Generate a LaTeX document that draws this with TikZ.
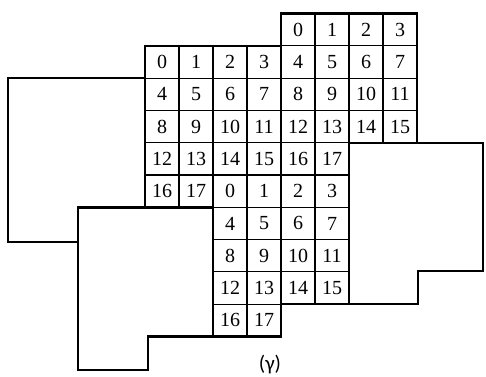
\documentclass[tikz,border=0pt]{standalone}
\usepackage{fontspec}
\newfontfamily\labelfont{Carlito}
\newfontfamily\cellfont{Liberation Serif}
\newcommand\memblock[3]{%
  \foreach \n in {0,...,17}{%
    \pgfmathtruncatemacro\rr{#2+floor(\n/4)}%
    \pgfmathtruncatemacro\cc{#1+mod(\n,4)}%
    \node[cell] (#3\n) at ({145+34*\cc},{13.5+32.3*\rr}) {\n};
  }%
  \draw[outline] ({145+34*#1},{13.5+32.3*#2}) -- ++(136,0) -- ++(0,129.2)
    -- ++(-68,0) -- ++(0,32.3) -- ++(-68,0) -- cycle;
}
\begin{document}
\begin{tikzpicture}[x=1pt,y=-1pt,
  cell/.style={draw,line width=1.1pt,minimum width=34pt,minimum height=32.3pt,
    inner sep=0pt,outer sep=0pt,anchor=north west,font=\cellfont\fontsize{20}{20}\selectfont},
  outline/.style={line width=2.4pt,line join=miter},
  region/.style={line width=2.4pt,line join=miter}]
\useasboundingbox (0,0) rectangle (486,376);
% memory blocks
\memblock{4}{0}{a}
\memblock{0}{1}{b}
\memblock{2}{5}{c}
% empty regions
\draw[region] (8,78.1) -- (145,78.1) -- (145,207.3) -- (78,207.3) -- (78,242) -- (8,242) -- cycle;
\draw[region] (78,207.3) -- (213,207.3) -- (213,336.5) -- (148,336.5) -- (148,370) -- (78,370) -- cycle;
\draw[region] (349,142.7) -- (483,142.7) -- (483,271) -- (418,271) -- (418,304.2) -- (349,304.2) -- cycle;
% caption
\node[font=\labelfont\fontsize{21}{21}\selectfont] (cap) at (270,364) {(γ)};
\end{tikzpicture}
\end{document}
